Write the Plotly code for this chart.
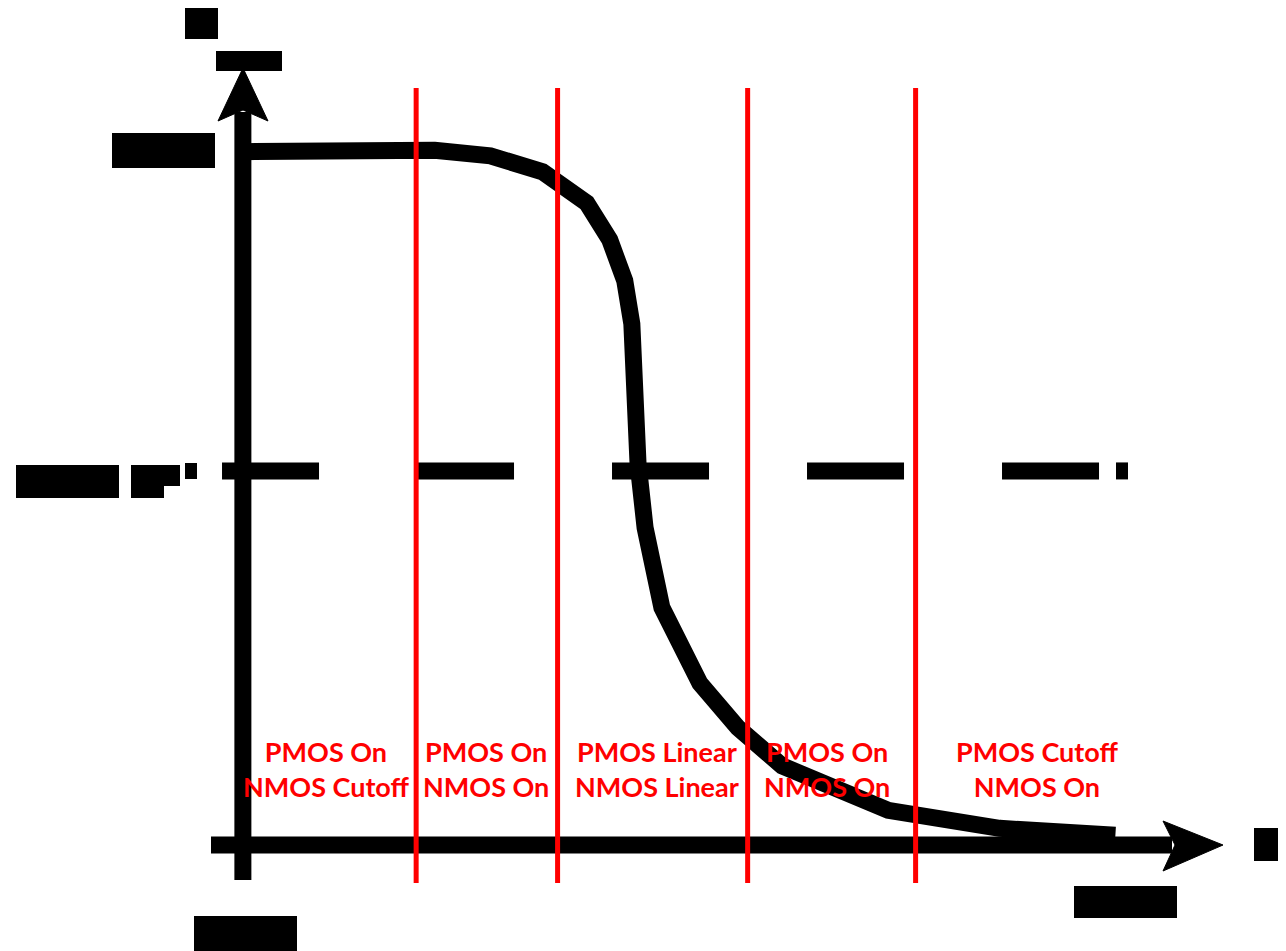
import plotly.graph_objects as go

# ---- Data (Vin, Vout normalised to VDD = 1) ----
vin = [0.000, 0.156, 0.218, 0.281, 0.340, 0.390, 0.416, 0.433, 0.441,
       0.448, 0.456, 0.475, 0.518, 0.561, 0.611, 0.731, 0.857, 0.988]
vout = [0.999, 1.001, 1.001, 0.993, 0.970, 0.925, 0.872, 0.813, 0.751,
        0.550, 0.457, 0.342, 0.233, 0.169, 0.114, 0.050, 0.024, 0.014]

region_bounds = [0.197, 0.357, 0.572, 0.762]          # Vin of red boundaries
region_centers = [0.096, 0.276, 0.470, 0.662, 0.899]   # Vin of label centres
region_labels = ["PMOS On<br>NMOS Cutoff", "PMOS On<br>NMOS On",
                 "PMOS Linear<br>NMOS Linear", "PMOS On<br>NMOS On",
                 "PMOS Cutoff<br>NMOS On"]
label_vout = 0.110
vmid = 0.539            # dashed mid-level line
vmid_span = [-0.0226, 0.9785]
vmid_dot = [0.9887, 1.0023]
bound_span = [-0.0548, 1.0908]

# ---- Axis mapping (pixel layout of the screen) ----
X0, XS = 242, 884      # screen pixel of Vin=0, pixels per unit
Y0, YS = 845, 694
W, H = 1286, 951
OFF = 8                # page body margin
LW = 17                # heavy stroke width


def vx(p):
    return (p - X0) / XS


def vy(p):
    return (Y0 - p) / YS


fig = go.Figure()

# dashed mid line
fig.add_trace(go.Scatter(x=vmid_span, y=[vmid, vmid], mode="lines",
                         line=dict(color="black", width=LW, dash="97px,98px"),
                         hoverinfo="skip"))

# axes shafts
fig.add_trace(go.Scatter(x=[0.001, 0.001], y=[vy(880), vy(112)], mode="lines",
                         line=dict(color="black", width=LW), hoverinfo="skip"))
fig.add_trace(go.Scatter(x=[vx(211), vx(1172)], y=[0, 0], mode="lines",
                         line=dict(color="black", width=LW), hoverinfo="skip"))
# arrow heads
fig.add_trace(go.Scatter(x=[vx(243), vx(218), vx(243), vx(268), vx(243)],
                         y=[vy(68), vy(121), vy(110), vy(121), vy(68)],
                         mode="lines", fill="toself", fillcolor="black",
                         line=dict(color="black", width=1), hoverinfo="skip"))
fig.add_trace(go.Scatter(x=[vx(1223), vx(1163), vx(1175), vx(1163), vx(1223)],
                         y=[0, vy(821), 0, vy(871), 0],
                         mode="lines", fill="toself", fillcolor="black",
                         line=dict(color="black", width=1), hoverinfo="skip"))

# transfer curve
fig.add_trace(go.Scatter(x=vin, y=vout, mode="lines",
                         line=dict(color="black", width=LW), hoverinfo="skip"))

# red region boundaries
for b in region_bounds:
    fig.add_trace(go.Scatter(x=[b, b], y=bound_span, mode="lines",
                             line=dict(color="#FF0000", width=5), hoverinfo="skip"))

# redacted label boxes
boxes = [(185, 7, 218, 39), (216, 51, 282, 71), (112, 133, 215, 168),
         (16, 465, 119, 498), (131, 465, 164, 498), (131, 465, 180, 486),
         (185, 463, 197, 479), (194, 916, 297, 951), (1074, 886, 1177, 918),
         (1254, 828, 1290, 861), (1283, 872, 1287, 892)]
for (x1, y1, x2, y2) in boxes:
    fig.add_shape(type="rect", x0=vx(x1), x1=vx(x2), y0=vy(y1), y1=vy(y2),
                  fillcolor="black", line=dict(width=0), layer="above")
fig.add_shape(type="rect", x0=vmid_dot[0], x1=vmid_dot[1],
              y0=vmid - 8.5 / YS, y1=vmid + 8.5 / YS,
              fillcolor="black", line=dict(width=0), layer="above")

for xc, lab in zip(region_centers, region_labels):
    fig.add_annotation(x=xc, y=label_vout, text="<b>" + lab + "</b>",
                       showarrow=False, xanchor="center", yanchor="middle",
                       font=dict(family="Lato", size=27, color="#FF0000"))

fig.update_layout(
    width=W, height=H, margin=dict(l=0, r=0, t=0, b=0),
    paper_bgcolor="white", plot_bgcolor="white", showlegend=False,
    xaxis=dict(range=[vx(OFF), vx(W + OFF)], visible=False, fixedrange=True),
    yaxis=dict(range=[vy(H + OFF), vy(OFF)], visible=False, fixedrange=True),
)

fig.write_html("out.html")
